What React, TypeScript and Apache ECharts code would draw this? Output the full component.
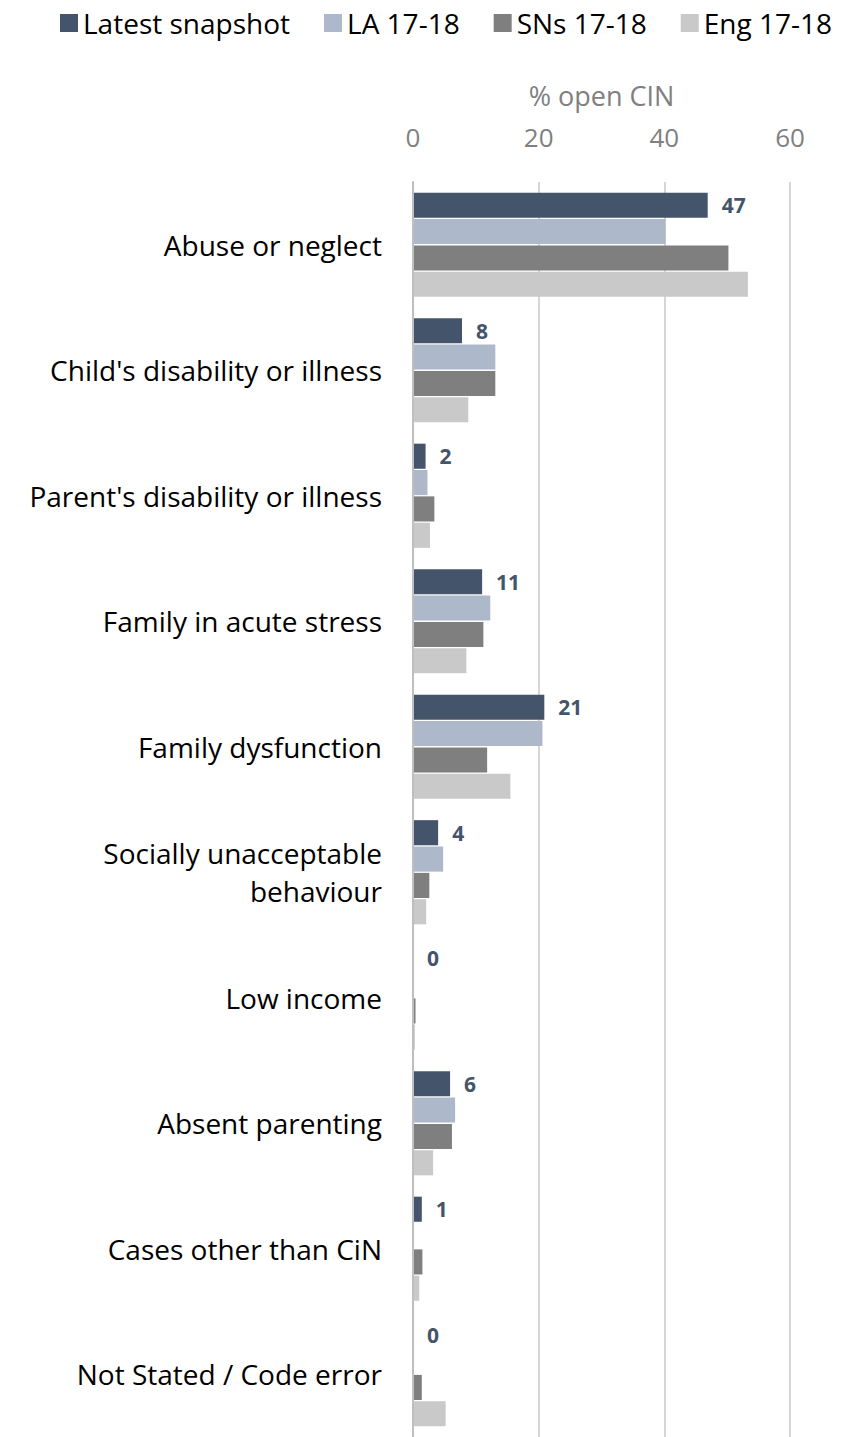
import React, { useEffect, useRef } from "react";
import * as echarts from "echarts";

const categories = [
  "Abuse or neglect",
  "Child's disability or illness",
  "Parent's disability or illness",
  "Family in acute stress",
  "Family dysfunction",
  "Socially unacceptable\nbehaviour",
  "Low income",
  "Absent parenting",
  "Cases other than CiN",
  "Not Stated / Code error",
];
const seriesNames = ["Latest snapshot", "LA 17-18", "SNs 17-18", "Eng 17-18"];
const latest = [46.9, 7.8, 2.0, 11.0, 20.9, 4.0, 0, 5.9, 1.4, 0];
const la = [40.2, 13.1, 2.3, 12.3, 20.6, 4.8, 0, 6.7, 0, 0];
const sns = [50.2, 13.1, 3.4, 11.2, 11.8, 2.6, 0.4, 6.2, 1.5, 1.4];
const eng = [53.3, 8.8, 2.7, 8.5, 15.5, 2.1, 0.3, 3.2, 1.0, 5.2];
const xTicks = [0, 20, 40, 60];

const colors = ["#44546a", "#adb9ca", "#7f7f7f", "#c9c9c9"];
const FONT = "'Open Sans', 'Noto Sans', sans-serif";

export default function App() {
  const ref = useRef<HTMLDivElement>(null);
  useEffect(() => {
    if (!ref.current) return;
    const chart = echarts.init(ref.current, undefined, { renderer: "svg" });
    const data = [latest, la, sns, eng];
    chart.setOption({
      animation: false,
      textStyle: { fontFamily: FONT },
      legend: {
        top: 4,
        left: 55,
        itemWidth: 18,
        itemHeight: 18,
        itemGap: 34,
        icon: "rect",
        textStyle: { fontSize: 28, color: "#000", fontFamily: FONT },
        data: seriesNames,
      },
      grid: { left: 413, right: 74, top: 182, bottom: -6, containLabel: false },
      xAxis: {
        type: "value",
        position: "top",
        min: xTicks[0],
        max: xTicks[xTicks.length - 1],
        interval: 20,
        name: "% open CIN",
        nameLocation: "middle",
        nameGap: 73,
        nameTextStyle: { fontSize: 27, color: "#808080", fontFamily: FONT },
        axisLabel: { fontSize: 26, color: "#808080", margin: 32, fontFamily: FONT },
        axisLine: { show: false },
        axisTick: { show: false },
        splitLine: { show: true, lineStyle: { color: "#c8c8c8", width: 1.5 } },
      },
      yAxis: {
        type: "category",
        inverse: true,
        z: 10,
        data: categories,
        axisLine: { show: true, onZero: false, lineStyle: { color: "#bfbfbf", width: 2 } },
        axisTick: { show: false },
        axisLabel: {
          fontSize: 28,
          color: "#000",
          margin: 31,
          lineHeight: 38,
          align: "right",
          fontFamily: FONT,
        },
      },
      series: seriesNames.map((name, i) => ({
        name,
        type: "bar",
        z: 2,
        data: data[i],
        barGap: "5%",
        barCategoryGap: "17%",
        itemStyle: { color: colors[i] },
        label:
          i === 0
            ? {
                show: true,
                position: "right",
                distance: 14,
                formatter: (p: any) => String(Math.round(p.value)),
                fontSize: 21,
                fontWeight: "bold",
                color: "#44546a",
                fontFamily: FONT,
              }
            : { show: false },
      })),
    });
    return () => chart.dispose();
  }, []);
  return (
    <div
      ref={ref}
      style={{ position: "absolute", left: 0, top: 0, width: 864, height: 1437 }}
    />
  );
}
